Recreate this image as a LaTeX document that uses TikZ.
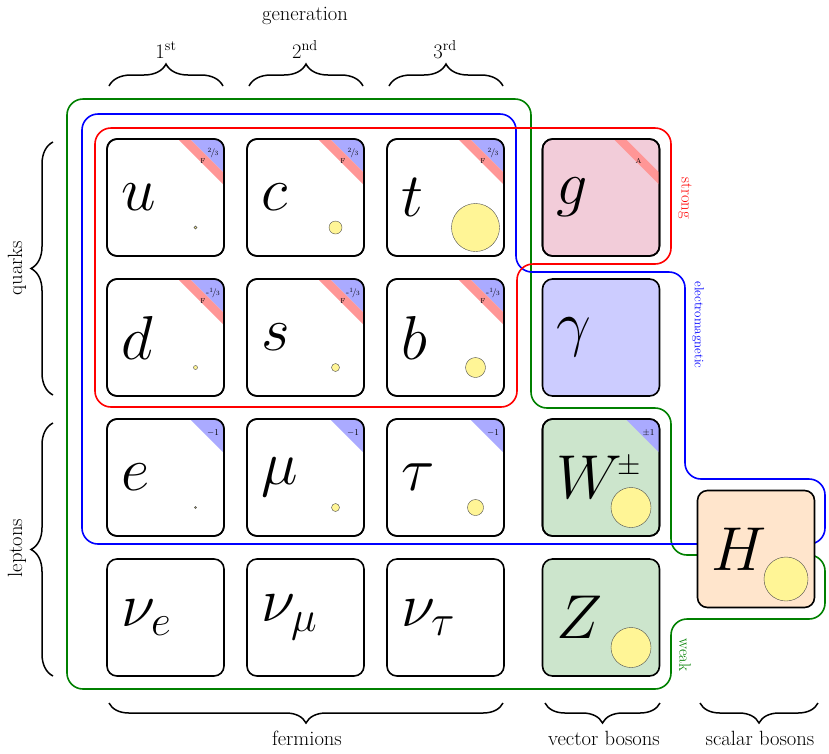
\RequirePackage{fix-cm}
\documentclass[tikz,border=0pt]{standalone}
\usetikzlibrary{decorations.pathreplacing}
\definecolor{massyellow}{RGB}{255,245,150}
\definecolor{chargeblue}{RGB}{170,170,255}
\definecolor{bandred}{RGB}{255,150,150}
\definecolor{weakgreen}{RGB}{0,128,0}
\tikzset{
  pbox/.style={rectangle, rounded corners=10pt, minimum width=117pt, minimum height=117pt, inner sep=0pt, outer sep=0pt, line width=1.6pt, draw=black},
  plet/.style={anchor=west, inner sep=0pt, font=\fontsize{62}{62}\selectfont},
  massdot/.style={circle, draw=black!70, line width=0.4pt, fill=massyellow, inner sep=0pt, outer sep=0pt},
  forceloop/.style={line width=1.6pt, rounded corners=16pt},
  lbl/.style={font=\fontsize{20.6}{24}\selectfont, inner sep=0pt},
  brc/.style={decorate, decoration={brace, amplitude=22pt}, line width=1.5pt},
  chg/.style={font=\fontsize{9}{9}\selectfont, inner sep=0pt},
  rep/.style={font=\fontsize{7}{7}\selectfont, inner sep=0pt},
  forcelbl/.style={rotate=-90, inner sep=0pt, font=\fontsize{16.5}{18}\selectfont},
}
\newcommand\nf[2]{\raisebox{0.35em}{\fontsize{6.5}{6.5}\selectfont#1}\kern-0.08em/\kern-0.08em{\fontsize{6.5}{6.5}\selectfont#2}}
\newcommand\pbx[5]{%
  \node[pbox, fill=#4] (#1) at (#2,#3) {};
}
\newcommand\psym[2]{%
  \node[plet] (#1-sym) at ([xshift=14pt]#1.west) {$#2$};
}
\newcommand\pmass[2]{%
  \node[massdot, minimum size=#2pt] (#1-mass) at ([xshift=30pt,yshift=-30pt]#1.center) {};
}
\newcommand\chargetri[2]{%
  \begin{scope}
    \clip[rounded corners=10pt] (#1.south west) rectangle (#1.north east);
    \fill[chargeblue] (#1.north east) -- ([xshift=-34pt]#1.north east) -- ([yshift=-34pt]#1.north east) -- cycle;
  \end{scope}
  \node[chg] (#1-chg) at ([xshift=-11pt,yshift=-14pt]#1.north east) {#2};
}
\newcommand\colorband[2]{%
  \begin{scope}
    \clip[rounded corners=10pt] (#1.south west) rectangle (#1.north east);
    \fill[bandred] ([xshift=-46pt]#1.north east) -- ([xshift=-34pt]#1.north east) -- ([yshift=-34pt]#1.north east) -- ([yshift=-46pt]#1.north east) -- cycle;
  \end{scope}
  \node[rep] (#1-rep) at ([xshift=-21pt,yshift=-22pt]#1.north east) {#2};
}
\newcommand\reborder[1]{\draw[line width=1.6pt, rounded corners=10pt] (#1.south west) rectangle (#1.north east);}
\begin{document}
\begin{tikzpicture}[x=1pt, y=-1pt]
\useasboundingbox (0,0) rectangle (829,753);
% force loops
\draw[forceloop, weakgreen] (300,99) -- (531,99) -- (531,408) -- (671,408) -- (671,555) -- (825,555) -- (825,619) -- (671,619) -- (671,689) -- (67,689) -- (67,99) -- cycle;
\draw[forceloop, blue] (300,114) -- (516,114) -- (516,272) -- (685,272) -- (685,479) -- (825,479) -- (825,544) -- (82,544) -- (82,114) -- cycle;
\draw[forceloop, red] (300,128) -- (671,128) -- (671,264) -- (517,264) -- (517,407) -- (95,407) -- (95,128) -- cycle;
\node[forcelbl, red] (strong) at (685,198) {strong};
\node[forcelbl, blue, font=\fontsize{13}{14}\selectfont] (em) at (698,325) {electromagnetic};
\node[forcelbl, weakgreen] (weak) at (685,655) {weak};
% quarks
\pbx{u}{165.5}{197.5}{white}{}
\pbx{c}{305.5}{197.5}{white}{}
\pbx{t}{445.5}{197.5}{white}{}
\pbx{d}{165.5}{337.5}{white}{}
\pbx{s}{305.5}{337.5}{white}{}
\pbx{b}{445.5}{337.5}{white}{}
\foreach \q in {u,c,t}{\chargetri{\q}{\nf{2}{3}}\colorband{\q}{F}\reborder{\q}}
\foreach \q in {d,s,b}{\chargetri{\q}{-\nf{1}{3}}\colorband{\q}{F}\reborder{\q}}
\psym{u}{u}\psym{c}{c}\psym{t}{t}
\psym{d}{d}\psym{s}{s}\psym{b}{b}
\pmass{u}{3}\pmass{c}{13}\pmass{t}{48}
\pmass{d}{4}\pmass{s}{8}\pmass{b}{20}
% leptons
\pbx{e}{165.5}{477.5}{white}{}
\pbx{mu}{305.5}{477.5}{white}{}
\pbx{tau}{445.5}{477.5}{white}{}
\pbx{nue}{165.5}{617.5}{white}{}
\pbx{numu}{305.5}{617.5}{white}{}
\pbx{nutau}{445.5}{617.5}{white}{}
\foreach \q in {e,mu,tau}{\chargetri{\q}{$-1$}\reborder{\q}}
\psym{e}{e}\psym{mu}{\mu}\psym{tau}{\tau}
\psym{nue}{\nu_e}\psym{numu}{\nu_\mu}\psym{nutau}{\nu_\tau}
\pmass{e}{2}\pmass{mu}{8}\pmass{tau}{16}
% bosons
\pbx{g}{601}{197.5}{purple!20}{}
\pbx{gamma}{601}{337.5}{blue!20}{}
\pbx{W}{601}{477.5}{green!50!black!20}{}
\pbx{Z}{601}{617.5}{green!50!black!20}{}
\pbx{H}{756}{549}{orange!20}{}
\colorband{g}{A}\reborder{g}
\chargetri{W}{$\pm1$}\reborder{W}
\psym{g}{g}\psym{gamma}{\gamma}\psym{Z}{Z}\psym{H}{H}
\node[plet] (W-sym) at ([xshift=14pt]W.west) {$W$\kern-5pt\raisebox{24pt}{\fontsize{30}{30}\selectfont$\pm$}};
\pmass{W}{40}\pmass{Z}{40}\pmass{H}{44}
% top labels
\node[lbl, anchor=base] (gen) at (305,20) {generation};
\node[lbl, anchor=base] (gen1) at (166,58) {1\textsuperscript{st}};
\node[lbl, anchor=base] (gen2) at (305,58) {2\textsuperscript{nd}};
\node[lbl, anchor=base] (gen3) at (445,58) {3\textsuperscript{rd}};
\coordinate (t1a) at (109,86); \coordinate (t1b) at (223,86);
\coordinate (t2a) at (249,86); \coordinate (t2b) at (363,86);
\coordinate (t3a) at (389,86); \coordinate (t3b) at (503,86);
\draw[brc] (t1a) -- (t1b);
\draw[brc] (t2a) -- (t2b);
\draw[brc] (t3a) -- (t3b);
% left
\coordinate (lqa) at (53,395); \coordinate (lqb) at (53,142);
\coordinate (lla) at (53,676); \coordinate (llb) at (53,423);
\draw[brc] (lqa) -- (lqb);
\draw[brc] (lla) -- (llb);
\node[lbl, rotate=90] (quarks) at (17,268) {quarks};
\node[lbl, rotate=90] (leptons) at (17,548) {leptons};
% bottom
\coordinate (bfa) at (503,703); \coordinate (bfb) at (109,703);
\coordinate (bva) at (660,703); \coordinate (bvb) at (545,703);
\coordinate (bsa) at (818,703); \coordinate (bsb) at (700,703);
\draw[brc, decoration={brace, amplitude=20pt}] (bfa) -- (bfb);
\draw[brc, decoration={brace, amplitude=20pt}] (bva) -- (bvb);
\draw[brc, decoration={brace, amplitude=20pt}] (bsa) -- (bsb);
\node[lbl, anchor=base] (fermions) at (307,745) {fermions};
\node[lbl, anchor=base] (vector) at (604,745) {vector bosons};
\node[lbl, anchor=base] (scalar) at (760,745) {scalar bosons};
\end{tikzpicture}
\end{document}
